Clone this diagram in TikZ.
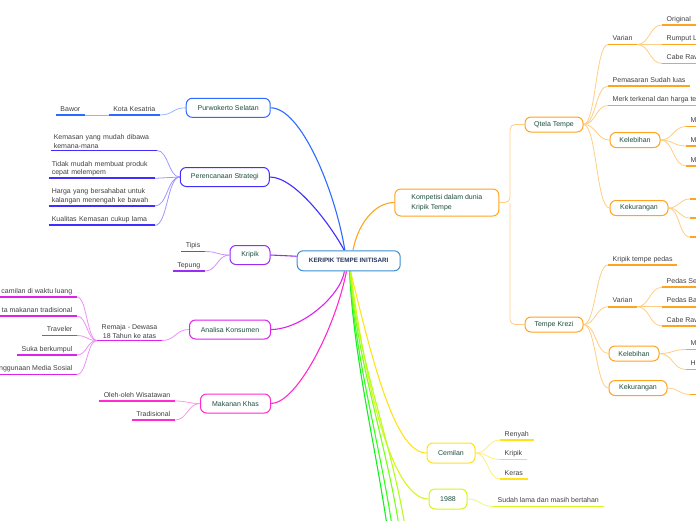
\documentclass[tikz,border=0pt]{standalone}
\usepackage{fontspec}
\setmainfont{Liberation Sans}
\usetikzlibrary{calc,backgrounds}
\definecolor{cPW}{HTML}{2B6CFF}
\definecolor{cPS}{HTML}{3F2EFF}
\definecolor{cKR}{HTML}{9B2CF5}
\definecolor{cAK}{HTML}{DD22EE}
\definecolor{cMK}{HTML}{FF2BD0}
\definecolor{cKO}{HTML}{FFA41F}
\definecolor{cCE}{HTML}{FFE21A}
\definecolor{cNN}{HTML}{D8F51C}
\definecolor{cGa}{HTML}{10F020}
\definecolor{cGb}{HTML}{3CFF1A}
\definecolor{cGc}{HTML}{7CFF1A}
\definecolor{cGd}{HTML}{B4FF1A}
\definecolor{cC}{HTML}{3A8FD2}
\definecolor{boxtext}{HTML}{1D4E3F}
\definecolor{leaftext}{HTML}{404040}
\definecolor{ctext}{HTML}{22385A}
\tikzset{
  box/.style={draw, rounded corners=6pt, fill=white, line width=1pt, minimum height=15pt,
    inner xsep=3pt, inner ysep=2pt, font=\fontsize{7}{8}\selectfont, text=boxtext},
  bigbox/.style={box, minimum height=19pt},
  leafbase/.style={inner xsep=4.5pt, inner ysep=2pt,
    font=\fontsize{7}{8.5}\selectfont, text=leaftext},
  leaf/.style={leafbase, text depth=1.8pt},
  leafm/.style={leafbase, inner xsep=3pt, align=left, text width=100pt},
  ul/.style={line width=1.8pt},
  mainc/.style={line width=1.1pt},
  subc/.style={line width=0.8pt},
  hcurve/.style={to path={let \p1=(\tikztostart), \p2=(\tikztotarget) in
    .. controls ({(\x1+\x2)/2},\y1) and ({(\x1+\x2)/2},\y2) .. (\tikztotarget)}},
}
\newcommand\ulof[2]{\draw[ul,#1] (#2.south west) -- (#2.south east);}
\begin{document}
\begin{tikzpicture}[x=1pt,y=-1pt]
\useasboundingbox (0,0) rectangle (696,520);
\clip (0,0) rectangle (696,520);

% central
\node[box, draw=cC, minimum width=103pt, minimum height=20pt, text=ctext,
  font=\fontsize{6.3}{7}\selectfont\bfseries] (c) at (348.7,260.8) {KERIPIK TEMPE INITISARI};

% ---------- left: Purwokerto Selatan
\node[bigbox, draw=cPW, minimum width=84pt] (pw) at (228.2,107.8) {Purwokerto Selatan};
\node[leaf, anchor=south east] (kks) at (160,115) {Kota Kesatria};
\node[leaf, anchor=south east] (bwr) at (85,115) {Bawor};
\ulof{cPW}{kks}\ulof{cPW}{bwr}

% ---------- Perencanaan Strategi
\node[bigbox, draw=cPS, minimum width=89pt] (ps) at (224.8,177) {Perencanaan Strategi};
\node[leafm, anchor=south east] (ps1) at (157,150.5) {Kemasan yang mudah dibawa\\kemana-mana};
\node[leafm, anchor=south east] (ps2) at (155,178.3) {Tidak mudah membuat produk\\cepat melempem};
\node[leafm, anchor=south east] (ps3) at (155,206) {Harga yang bersahabat untuk\\kalangan menengah ke bawah};
\node[leafm, anchor=south east, text depth=1.8pt] (ps4) at (155,225.3) {Kualitas Kemasan cukup lama};
\ulof{cPS}{ps1}\ulof{cPS}{ps2}\ulof{cPS}{ps3}\ulof{cPS}{ps4}

% ---------- Kripik
\node[bigbox, draw=cKR, minimum width=40pt] (kr) at (250,255) {Kripik};
\node[leaf, anchor=south east] (tps) at (205,251.5) {Tipis};
\node[leaf, anchor=south east] (tpg) at (205,271) {Tepung};
\ulof{cKR}{tps}\ulof{cKR}{tpg}

% ---------- Analisa Konsumen
\node[bigbox, draw=cAK, minimum width=81pt] (ak) at (230,329.5) {Analisa Konsumen};
\node[leafbase, anchor=south west, align=center] (rm) at (97,340.5) {Remaja - Dewasa\\18 Tahun ke atas};
\node[leaf, anchor=south east] (a1) at (77,297) {camilan di waktu luang};
\node[leaf, anchor=south east] (a2) at (77,316) {ta makanan tradisional};
\node[leaf, anchor=south east] (a3) at (77,335.5) {Traveler};
\node[leaf, anchor=south east] (a4) at (77,355) {Suka berkumpul};
\node[leaf, anchor=south east] (a5) at (77,374.5) {nggunaan Media Sosial};
\ulof{cAK}{rm}\ulof{cAK}{a1}\ulof{cAK}{a2}\ulof{cAK}{a3}\ulof{cAK}{a4}\ulof{cAK}{a5}

% ---------- Makanan Khas
\node[bigbox, draw=cMK, minimum width=70pt] (mk) at (235.5,403.5) {Makanan Khas};
\node[leaf, anchor=south east] (mk1) at (175,401) {Oleh-oleh Wisatawan};
\node[leaf, anchor=south east] (mk2) at (175,420) {Tradisional};
\ulof{cMK}{mk1}\ulof{cMK}{mk2}

% ---------- right: Kompetisi
\node[box, draw=cKO, minimum width=104pt, minimum height=27pt, align=left,
  font=\fontsize{7}{9.5}\selectfont] (ko) at (446.8,202.5) {Kompetisi dalam dunia\\Kripik Tempe};
\coordinate (kj) at (510,202.5);
\node[box, draw=cKO, minimum width=58pt] (qt) at (554,124.5) {Qtela Tempe};
\node[box, draw=cKO, minimum width=58pt] (kz) at (554,324.5) {Tempe Krezi};

% Qtela children
\node[leaf, anchor=south west] (q1) at (608,44.5) {Varian};
\node[leaf, anchor=south west] (q1a) at (662,25) {Original};
\node[leaf, anchor=south west] (q1b) at (662,44.5) {Rumput L};
\node[leaf, anchor=south west] (q1c) at (662,63.5) {Cabe Raw};
\node[leaf, anchor=south west] (q2) at (608,86) {Pemasaran Sudah luas};
\node[leaf, anchor=south west] (q3) at (608,105.5) {Merk terkenal dan harga te};
\node[box, draw=cKO, minimum width=50pt] (ql) at (635,140) {Kelebihan};
\node[leaf, anchor=south west] (ql1) at (686,126.5) {M};
\node[leaf, anchor=south west] (ql2) at (686,146) {M};
\node[leaf, anchor=south west] (ql3) at (686,166) {M};
\node[box, draw=cKO, minimum width=58pt] (qk) at (639,208) {Kekurangan};
\coordinate (qk1) at (690,199);
\coordinate (qk2) at (690,218);
\coordinate (qk3) at (690,237.3);
\foreach \nd in {q1,q1a,q1b,q1c,q2,q3,ql1,ql2,ql3}{\ulof{cKO}{\nd}}
\foreach \nd in {qk1,qk2,qk3}{\draw[ul,cKO] (\nd) -- ++(12,0);}

% Tempe Krezi children
\node[leaf, anchor=south west] (k1) at (608,265) {Kripik tempe pedas};
\node[leaf, anchor=south west] (k2) at (608,306.7) {Varian};
\node[leaf, anchor=south west] (k2a) at (662,287.3) {Pedas Se};
\node[leaf, anchor=south west] (k2b) at (662,306.7) {Pedas Ba};
\node[leaf, anchor=south west] (k2c) at (662,326) {Cabe Raw};
\node[box, draw=cKO, minimum width=50pt] (kl) at (634,353.5) {Kelebihan};
\node[leaf, anchor=south west] (kl1) at (686,349.5) {M};
\node[leaf, anchor=south west] (kl2) at (686,369.5) {Ha};
\node[box, draw=cKO, minimum width=58pt] (kk) at (638,388) {Kekurangan};
\coordinate (kk1) at (690,394.5);
\foreach \nd in {k1,k2,k2a,k2b,k2c,kl1,kl2}{\ulof{cKO}{\nd}}
\draw[ul,cKO] (kk1) -- ++(12,0);

% ---------- Cemilan
\node[bigbox, draw=cCE, minimum width=48pt, minimum height=20pt] (ce) at (451,453) {Cemilan};
\node[leaf, anchor=south west] (ce1) at (500,440) {Renyah};
\node[leaf, anchor=south west] (ce2) at (500,459.5) {Kripik};
\node[leaf, anchor=south west] (ce3) at (500,479) {Keras};
\ulof{cCE}{ce1}\ulof{cCE}{ce2}\ulof{cCE}{ce3}

% ---------- 1988
\node[bigbox, draw=cNN, minimum width=38pt, minimum height=20pt] (nn) at (448,499) {1988};
\node[leaf, anchor=south west] (nn1) at (493,506.5) {Sudah lama dan masih bertahan};
\ulof{cNN}{nn1}

% off-picture branches
\coordinate (d1) at (389,540);
\coordinate (d2) at (394,540);
\coordinate (d3) at (401,540);
\coordinate (d4) at (407,540);

\begin{scope}[on background layer]
% main connectors
\draw[mainc,cPW] (c.110) .. controls ($(c.110)+(-10,-61)$) and ($(pw.east)+(30,0)$) .. (pw.east);
\draw[mainc,cPS] (c.113) .. controls ($(c.113)+(-14,-26)$) and ($(ps.east)+(25,0)$) .. (ps.east);
\draw[mainc,cKR] (c.175) to[hcurve] (kr.east);
\draw[mainc,cAK] (c.-112) .. controls ($(c.-112)+(-4,25)$) and ($(ak.east)+(30,0)$) .. (ak.east);
\draw[mainc,cMK] (c.-102) .. controls ($(c.-102)+(-12,60)$) and ($(mk.east)+(25,0)$) .. (mk.east);
\draw[mainc,cKO] (c.68) .. controls ($(c.68)+(5,-26)$) and ($(ko.west)+(-20,0)$) .. (ko.west);
\draw[mainc,cCE] (c.-80) .. controls ($(c.-80)+(24,100)$) and ($(ce.west)+(-30,0)$) .. (ce.west);
\draw[mainc,cNN] (c.-80) .. controls ($(c.-80)+(20,150)$) and ($(nn.west)+(-30,0)$) .. (nn.west);
\draw[mainc,cGa] (c.-85) .. controls ($(c.-85)+(4,90)$) and ($(d1)+(-12,-90)$) .. (d1);
\draw[mainc,cGb] (c.-84) .. controls ($(c.-84)+(5,90)$) and ($(d2)+(-12,-90)$) .. (d2);
\draw[mainc,cGc] (c.-82) .. controls ($(c.-82)+(6,90)$) and ($(d3)+(-12,-90)$) .. (d3);
\draw[mainc,cGd] (c.-81) .. controls ($(c.-81)+(7,90)$) and ($(d4)+(-12,-90)$) .. (d4);
% sub connectors left
\draw[subc,cPW!50] (pw.west) to[hcurve] (kks.south east);
\draw[subc,cPW!50] (kks.south west) -- (bwr.south east);
\draw[subc,cPS!50] (ps.west) to[hcurve] (ps1.south east);
\draw[subc,cPS!50] (ps.west) to[hcurve] (ps2.south east);
\draw[subc,cPS!50] (ps.west) to[hcurve] (ps3.south east);
\draw[subc,cPS!50] (ps.west) to[hcurve] (ps4.south east);
\draw[subc,cKR!50] (kr.west) to[hcurve] (tps.south east);
\draw[subc,cKR!50] (kr.west) to[hcurve] (tpg.south east);
\draw[subc,cAK!50] (ak.west) to[hcurve] (rm.south east);
\draw[subc,cAK!50] (rm.south west) to[hcurve] (a1.south east);
\draw[subc,cAK!50] (rm.south west) to[hcurve] (a2.south east);
\draw[subc,cAK!50] (rm.south west) to[hcurve] (a3.south east);
\draw[subc,cAK!50] (rm.south west) to[hcurve] (a4.south east);
\draw[subc,cAK!50] (rm.south west) to[hcurve] (a5.south east);
\draw[subc,cMK!50] (mk.west) to[hcurve] (mk1.south east);
\draw[subc,cMK!50] (mk.west) to[hcurve] (mk2.south east);
% right
\draw[subc,cKO!55,rounded corners=5pt] (ko.east) -- (kj) |- (qt.west);
\draw[subc,cKO!55,rounded corners=5pt] (kj) |- (kz.west);
\draw[subc,cKO!55] (qt.east) to[hcurve] (q1.south west);
\draw[subc,cKO!55] (qt.east) to[hcurve] (q2.south west);
\draw[subc,cKO!55] (qt.east) to[hcurve] (q3.south west);
\draw[subc,cKO!55] (qt.east) to[hcurve] (ql.west);
\draw[subc,cKO!55] (qt.east) to[hcurve] (qk.west);
\draw[subc,cKO!55] (q1.south east) to[hcurve] (q1a.south west);
\draw[subc,cKO!55] (q1.south east) to[hcurve] (q1b.south west);
\draw[subc,cKO!55] (q1.south east) to[hcurve] (q1c.south west);
\draw[subc,cKO!55] (ql.east) to[hcurve] (ql1.south west);
\draw[subc,cKO!55] (ql.east) to[hcurve] (ql2.south west);
\draw[subc,cKO!55] (ql.east) to[hcurve] (ql3.south west);
\draw[subc,cKO!55] (qk.east) to[hcurve] (qk1);
\draw[subc,cKO!55] (qk.east) to[hcurve] (qk2);
\draw[subc,cKO!55] (qk.east) to[hcurve] (qk3);
\draw[subc,cKO!55] (kz.east) to[hcurve] (k1.south west);
\draw[subc,cKO!55] (kz.east) to[hcurve] (k2.south west);
\draw[subc,cKO!55] (kz.east) to[hcurve] (kl.west);
\draw[subc,cKO!55] (kz.east) to[hcurve] (kk.west);
\draw[subc,cKO!55] (k2.south east) to[hcurve] (k2a.south west);
\draw[subc,cKO!55] (k2.south east) to[hcurve] (k2b.south west);
\draw[subc,cKO!55] (k2.south east) to[hcurve] (k2c.south west);
\draw[subc,cKO!55] (kl.east) to[hcurve] (kl1.south west);
\draw[subc,cKO!55] (kl.east) to[hcurve] (kl2.south west);
\draw[subc,cKO!55] (kk.east) to[hcurve] (kk1);
\draw[subc,cCE!60] (ce.east) to[hcurve] (ce1.south west);
\draw[subc,cCE!60] (ce.east) to[hcurve] (ce2.south west);
\draw[subc,cCE!60] (ce.east) to[hcurve] (ce3.south west);
\draw[subc,cNN!60] (nn.east) to[hcurve] (nn1.south west);
\end{scope}
\end{tikzpicture}
\end{document}
